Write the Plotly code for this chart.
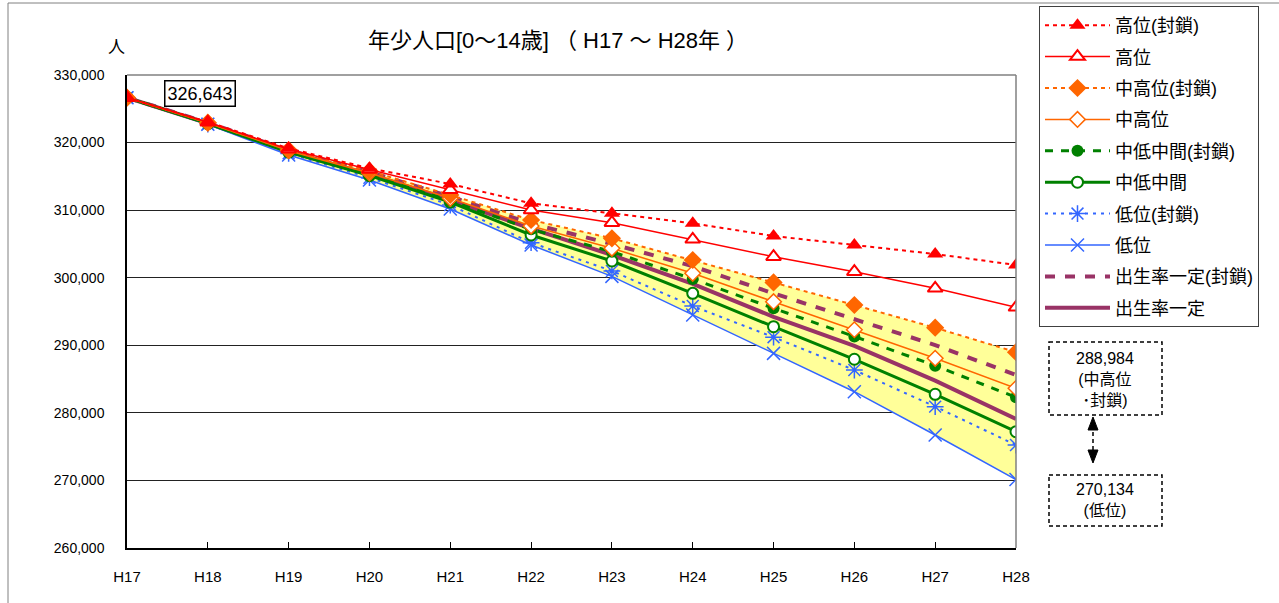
import plotly.graph_objects as go

years = ["H17", "H18", "H19", "H20", "H21", "H22", "H23", "H24", "H25", "H26", "H27", "H28"]

high_lock = [326643, 323050, 319150, 316200, 313870, 311010, 309530, 308050, 306170, 304840, 303510, 301880]
high = [326643, 323000, 319000, 316000, 313000, 310020, 308140, 305680, 303110, 300890, 298430, 295620]
midhigh_lock = [326643, 322950, 318900, 315800, 312240, 308540, 305830, 302620, 299300, 295960, 292600, 288984]
midhigh = [326643, 322900, 318800, 315500, 311750, 307650, 304350, 300650, 296450, 292300, 288070, 283640]
midlow_lock = [326643, 322850, 318700, 315300, 311400, 307160, 303850, 299810, 295470, 291300, 286980, 282300]
midlow = [326643, 322800, 318600, 315100, 311200, 306320, 302470, 297690, 292750, 287930, 282750, 277210]
low_lock = [326643, 322750, 318400, 314800, 310760, 305180, 301000, 295810, 291200, 286340, 280920, 275240]
low = [326643, 322700, 318160, 314460, 310170, 304850, 300200, 294480, 288800, 283130, 276720, 270134]
birth_lock = [326643, 322950, 318850, 315650, 312000, 308000, 305000, 301700, 297680, 293850, 290040, 285600]
birth = [326643, 322850, 318700, 315300, 311500, 307250, 303360, 299100, 294200, 289900, 284760, 279090]

names = ["高位(封鎖)", "高位", "中高位(封鎖)", "中高位", "中低中間(封鎖)", "中低中間",
         "低位(封鎖)", "低位", "出生率一定(封鎖)", "出生率一定"]
series = [high_lock, high, midhigh_lock, midhigh, midlow_lock, midlow, low_lock, low, birth_lock, birth]

title_text = "年少人口[0～14歳] （ H17 ～ H28年 ）"
start_label = "326,643"
box1_text = "288,984<br>(中高位<br>･封鎖)"
box2_text = "270,134<br>(低位)"

FONT = "Liberation Sans, Arial, Noto Sans CJK JP, sans-serif"

RED = "#FF0000"
ORANGE = "#FF6600"
GREEN = "#008000"
BLUE = "#3366FF"
PURPLE = "#993366"

styles = [
    dict(line=dict(color=RED, width=2, dash="4px,4px"), marker=dict(symbol="triangle-up", size=14, color=RED)),
    dict(line=dict(color=RED, width=1.5), marker=dict(symbol="triangle-up", size=13, color="white", line=dict(color=RED, width=2))),
    dict(line=dict(color=ORANGE, width=2, dash="4px,4px"), marker=dict(symbol="diamond", size=14, color=ORANGE)),
    dict(line=dict(color=ORANGE, width=1.5), marker=dict(symbol="diamond", size=12, color="white", line=dict(color=ORANGE, width=1.5))),
    dict(line=dict(color=GREEN, width=3, dash="8px,8px"), marker=dict(symbol="circle", size=12, color=GREEN)),
    dict(line=dict(color=GREEN, width=3), marker=dict(symbol="circle", size=11, color="white", line=dict(color=GREEN, width=2))),
    dict(line=dict(color=BLUE, width=2, dash="3px,5px"), marker=dict(symbol="asterisk-open", size=14, color=BLUE, line=dict(color=BLUE, width=1.5))),
    dict(line=dict(color=BLUE, width=1.5), marker=dict(symbol="x-thin-open", size=13, color=BLUE, line=dict(color=BLUE, width=1.5))),
    dict(line=dict(color=PURPLE, width=4, dash="10px,10px"), marker=dict(size=1, opacity=0)),
    dict(line=dict(color=PURPLE, width=4), marker=dict(size=1, opacity=0)),
]

fig = go.Figure()

# yellow band between 低位 and 中高位(封鎖)
fig.add_trace(go.Scatter(x=years, y=low, mode="lines", line=dict(width=0), showlegend=False, hoverinfo="skip"))
fig.add_trace(go.Scatter(x=years, y=midhigh_lock, mode="lines", line=dict(width=0), fill="tonexty",
                         fillcolor="#FFFF99", showlegend=False, hoverinfo="skip"))

for i in reversed(range(len(series))):
    st = styles[i]
    mode = "lines" if i >= 8 else "lines+markers"
    fig.add_trace(go.Scatter(x=years, y=series[i], name=names[i], mode=mode,
                             line=st["line"], marker=st["marker"],
                             legendgroup="g%d" % i, legendrank=i + 1))

L, R, T, B = 127, 1016, 75, 548
W, H = 1279, 603


def px(x):
    return (x - L) / (R - L)


def py(y):
    return (B - y) / (B - T)


shapes = [
    # outer frame
    dict(type="rect", xref="paper", yref="paper", x0=px(8), x1=px(1290), y0=py(3), y1=py(620),
         line=dict(color="#808080", width=1), layer="below"),
    # plot border top/right
    dict(type="line", xref="paper", yref="paper", x0=0, x1=1, y0=1, y1=1, line=dict(color="#808080", width=1.5)),
    dict(type="line", xref="paper", yref="paper", x0=1, x1=1, y0=0, y1=1, line=dict(color="#808080", width=1.5)),
    # dashed boxes
    dict(type="rect", xref="paper", yref="paper", x0=px(1049), x1=px(1162), y0=py(342), y1=py(415),
         line=dict(color="black", width=1.5, dash="4px,3px"), fillcolor="white"),
    dict(type="rect", xref="paper", yref="paper", x0=px(1049), x1=px(1162), y0=py(475), y1=py(526),
         line=dict(color="black", width=1.5, dash="4px,3px"), fillcolor="white"),
    # dashed arrow line
    dict(type="line", xref="paper", yref="paper", x0=px(1093), x1=px(1093), y0=py(425), y1=py(455),
         line=dict(color="black", width=1.5, dash="4px,3px")),
    dict(type="path", xref="paper", yref="paper",
         path="M %f %f L %f %f L %f %f Z" % (px(1093), py(417), px(1088), py(430), px(1098), py(430)),
         fillcolor="black", line=dict(color="black", width=1)),
    dict(type="path", xref="paper", yref="paper",
         path="M %f %f L %f %f L %f %f Z" % (px(1093), py(463), px(1088), py(450), px(1098), py(450)),
         fillcolor="black", line=dict(color="black", width=1)),
]

annotations = [
    dict(text="人", xref="paper", yref="paper", x=px(116), y=py(47), showarrow=False,
         xanchor="center", yanchor="middle", font=dict(size=17, color="black")),
    dict(text=start_label, xref="paper", yref="paper", x=px(200), y=py(93), showarrow=False,
         xanchor="center", yanchor="middle",
         font=dict(size=18, color="black"), bordercolor="black", borderwidth=1.5, borderpad=2,
         bgcolor="white"),
    dict(text=box1_text, xref="paper", yref="paper", x=px(1105), y=py(379), showarrow=False,
         xanchor="center", yanchor="middle", font=dict(size=16, color="black"), align="center"),
    dict(text=box2_text, xref="paper", yref="paper", x=px(1105), y=py(500), showarrow=False,
         xanchor="center", yanchor="middle", font=dict(size=16, color="black"), align="center"),
]

fig.update_layout(
    width=W, height=H, autosize=False,
    margin=dict(l=L, r=W - R, t=T, b=H - B, autoexpand=False),
    paper_bgcolor="white", plot_bgcolor="white",
    font=dict(family=FONT, size=14, color="black"),
    title=dict(text=title_text, x=px(558), xref="paper", xanchor="center", y=1 - 40 / H, yanchor="middle",
               font=dict(size=22, color="black")),
    xaxis=dict(type="category", range=[0, 11], showgrid=False, showline=True, linecolor="black",
               linewidth=1.5, ticks="inside", ticklen=6, tickcolor="black", tickfont=dict(size=15),
               ticklabelstandoff=14, zeroline=False),
    yaxis=dict(range=[260000, 330000], dtick=10000, tickformat=",d", showgrid=True, gridcolor="#222222",
               gridwidth=1, showline=True, linecolor="black", linewidth=1.5, ticks="", tickfont=dict(size=14),
               ticklabelstandoff=18, zeroline=False),
    legend=dict(x=px(1039), y=py(6), xanchor="left", yanchor="top", bgcolor="white",
                bordercolor="#404040", borderwidth=1, font=dict(size=18, color="black"),
                itemwidth=65, traceorder="grouped", tracegroupgap=5, maxheight=600),
    shapes=shapes,
    annotations=annotations,
    showlegend=True,
)

fig.write_html("out.html", config={"displayModeBar": False},
               post_script="document.body.style.margin='0';document.body.style.padding='0';")
